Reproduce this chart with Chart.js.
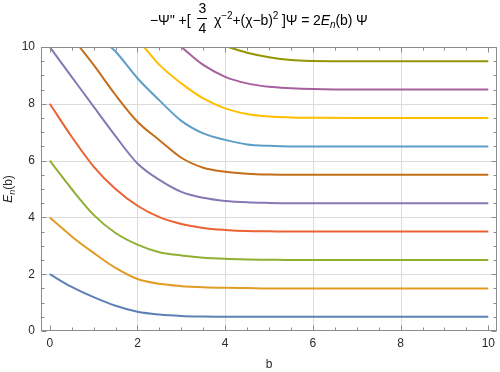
<!DOCTYPE html>
<html>
<head>
<meta charset="utf-8">
<script src="https://cdn.jsdelivr.net/npm/chart.js@4"></script>
<style>
  body { margin: 0; background: #fff; }
  #wrap { position: relative; width: 500px; height: 372px; }
  #title {
    position: absolute; left: 150px; top: 12px;
    font: 14px "Liberation Sans", Arial, sans-serif; color: #000;
    white-space: nowrap; line-height: 16px; letter-spacing: -0.1px;
  }
  #title sup, #title sub { font-size: 10px; line-height: 0; }
  #title sup { vertical-align: 6px; }
  #title sub { vertical-align: -3px; }
  .frac { display: inline-block; position: relative; width: 10px; height: 1px; margin: 0 3px; }
  .frac span { position: absolute; left: 0; width: 10px; text-align: center; line-height: 14px; }
  .frac .num { top: -23px; }
  .frac .bar { top: -6px; height: 1px; background: #000; }
  .frac .den { top: -3px; }
</style>
</head>
<body>
<div id="wrap">
  <canvas id="chart" width="500" height="372"></canvas>
  <div id="title">−Ψ'' +[ <span class="frac"><span class="num">3</span><span class="bar"></span><span class="den">4</span></span> χ<sup>−2</sup>+(χ−b)<sup>2</sup> ]Ψ = 2<i>E</i><sub><i>n</i></sub>(b) Ψ</div>
</div>
<script>
const bGrid = [0, 0.5, 1, 1.5, 2, 2.5, 3, 3.5, 4, 4.5, 5, 5.5, 6, 7, 8, 9, 10];

// E_n(b), one array per level (null = above the plot range)
const level0 = [2.00, 1.55, 1.19, 0.89, 0.68, 0.58, 0.53, 0.51, 0.50, 0.50, 0.50, 0.50, 0.50, 0.50, 0.50, 0.50, 0.50];
const level1 = [4.00, 3.33, 2.75, 2.22, 1.83, 1.66, 1.58, 1.54, 1.52, 1.51, 1.50, 1.50, 1.50, 1.50, 1.50, 1.50, 1.50];
const level2 = [6.00, 5.00, 4.09, 3.45, 3.04, 2.77, 2.66, 2.58, 2.54, 2.52, 2.51, 2.50, 2.50, 2.50, 2.50, 2.50, 2.50];
const level3 = [8.00, 6.84, 5.79, 5.00, 4.41, 4.01, 3.77, 3.63, 3.56, 3.52, 3.51, 3.50, 3.50, 3.50, 3.50, 3.50, 3.50];
const level4 = [10.0, 8.95, 7.90, 6.86, 5.90, 5.32, 4.90, 4.69, 4.58, 4.53, 4.51, 4.50, 4.50, 4.50, 4.50, 4.50, 4.50];
const level5 = [null, null, 9.37, 8.31, 7.37, 6.72, 6.10, 5.75, 5.61, 5.54, 5.51, 5.50, 5.50, 5.50, 5.50, 5.50, 5.50];
const level6 = [null, null, null, 9.84, 8.90, 8.12, 7.40, 6.96, 6.73, 6.57, 6.52, 6.50, 6.50, 6.50, 6.50, 6.50, 6.50];
const level7 = [null, null, null, null, null, 9.37, 8.72, 8.19, 7.84, 7.64, 7.55, 7.52, 7.51, 7.50, 7.50, 7.50, 7.50];
const level8 = [null, null, null, null, null, null, null, 9.37, 8.95, 8.72, 8.60, 8.55, 8.52, 8.50, 8.50, 8.50, 8.50];
const level9 = [null, null, null, null, null, null, null, null, null, 9.80, 9.64, 9.54, 9.51, 9.50, 9.50, 9.50, 9.50];
const levels = [level0, level1, level2, level3, level4, level5, level6, level7, level8, level9];

// b where a curve comes in through the top edge (E = 10)
const entryB = [null, null, null, null, null, 0.68, 1.39, 2.15, 3.00, 4.07];
const yMax = 10;

const xTicks = [0, 2, 4, 6, 8, 10];
const yTicks = [0, 2, 4, 6, 8, 10];

const colors = ['#5e81b5', '#e19c24', '#8fb032', '#eb6235', '#8778b3',
                '#c56e1a', '#5d9ec7', '#ffbf00', '#a5609d', '#929600'];

const FONT = '"Liberation Sans", Arial, sans-serif';

const datasets = levels.map((vals, i) => {
    const pts = [];
    if (entryB[i] !== null) pts.push({ x: entryB[i], y: yMax });
    bGrid.forEach((b, j) => {
        if (vals[j] !== null) pts.push({ x: b, y: vals[j] });
    });
    return {
        data: pts,
        borderColor: colors[i],
        borderWidth: 2,
        pointRadius: 0,
        fill: false,
        cubicInterpolationMode: 'monotone'
    };
});

// gridlines, Mathematica style frame with inward ticks, axis labels
const framePlugin = {
    id: 'frame',
    beforeDatasetsDraw(chart) {
        const { ctx, chartArea: a, scales: { x, y } } = chart;
        ctx.save();
        ctx.strokeStyle = '#dcdcdc';
        ctx.lineWidth = 1;
        [2, 4, 6, 8].forEach(v => {
            const px = Math.round(x.getPixelForValue(v)) + 0.5;
            ctx.beginPath(); ctx.moveTo(px, a.top); ctx.lineTo(px, a.bottom); ctx.stroke();
            const py = Math.round(y.getPixelForValue(v)) + 0.5;
            ctx.beginPath(); ctx.moveTo(a.left, py); ctx.lineTo(a.right, py); ctx.stroke();
        });
        ctx.restore();
    },
    afterDatasetsDraw(chart) {
        const { ctx, chartArea: a, scales: { x, y } } = chart;
        const L = Math.round(a.left) + 0.5, R = Math.round(a.right) - 0.5;
        const T = Math.round(a.top) + 0.5, B = Math.round(a.bottom) - 0.5;
        ctx.save();
        ctx.strokeStyle = '#8c8c8c';
        ctx.lineWidth = 1;
        ctx.strokeRect(L, T, R - L, B - T);
        for (let k = 0; k <= 20; k++) {
            const v = k * 0.5;
            const len = (k % 4 === 0) ? 5 : 3;
            const px = Math.round(x.getPixelForValue(v)) + 0.5;
            ctx.beginPath();
            ctx.moveTo(px, B); ctx.lineTo(px, B - len);
            ctx.moveTo(px, T); ctx.lineTo(px, T + len);
            ctx.stroke();
            const py = Math.round(y.getPixelForValue(v)) + 0.5;
            ctx.beginPath();
            ctx.moveTo(L, py); ctx.lineTo(L + len, py);
            ctx.moveTo(R, py); ctx.lineTo(R - len, py);
            ctx.stroke();
        }

        // axis titles
        ctx.fillStyle = '#2b2b2b';
        ctx.textBaseline = 'alphabetic';
        ctx.textAlign = 'center';
        ctx.font = '12px ' + FONT;
        ctx.fillText('b', (a.left + a.right) / 2, 368);

        ctx.textAlign = 'left';
        ctx.translate(12, (a.top + a.bottom) / 2);
        ctx.rotate(-Math.PI / 2);
        const fE = 'italic 12px ' + FONT, fN = 'italic 9px ' + FONT, fB = '12px ' + FONT;
        ctx.font = fE; const wE = ctx.measureText('E').width;
        ctx.font = fN; const wN = ctx.measureText('n').width;
        ctx.font = fB; const wB = ctx.measureText('(b)').width;
        let cx = -(wE + wN + wB) / 2;
        ctx.font = fE; ctx.fillText('E', cx, 0); cx += wE;
        ctx.font = fN; ctx.fillText('n', cx, 3); cx += wN;
        ctx.font = fB; ctx.fillText('(b)', cx, 0);
        ctx.restore();
    }
};

new Chart(document.getElementById('chart'), {
    type: 'line',
    data: { datasets: datasets },
    options: {
        responsive: false,
        animation: false,
        events: [],
        layout: { padding: { top: 47, right: 1, bottom: 0, left: 0 } },
        plugins: { legend: { display: false }, tooltip: { enabled: false } },
        scales: {
            x: {
                type: 'linear',
                min: -0.2,
                max: 10.2,
                afterBuildTicks: s => { s.ticks = xTicks.map(v => ({ value: v })); },
                afterFit: s => { s.height = 41; },
                grid: { display: false, drawTicks: false },
                border: { display: false },
                ticks: { padding: 5, color: '#2b2b2b', font: { size: 12, family: FONT }, maxRotation: 0 }
            },
            y: {
                type: 'linear',
                min: 0,
                max: 10,
                afterBuildTicks: s => { s.ticks = yTicks.map(v => ({ value: v })); },
                afterFit: s => { s.width = 41; },
                grid: { display: false, drawTicks: false },
                border: { display: false },
                ticks: { padding: 6, color: '#2b2b2b', font: { size: 12, family: FONT } }
            }
        }
    },
    plugins: [framePlugin]
});
</script>
</body>
</html>
